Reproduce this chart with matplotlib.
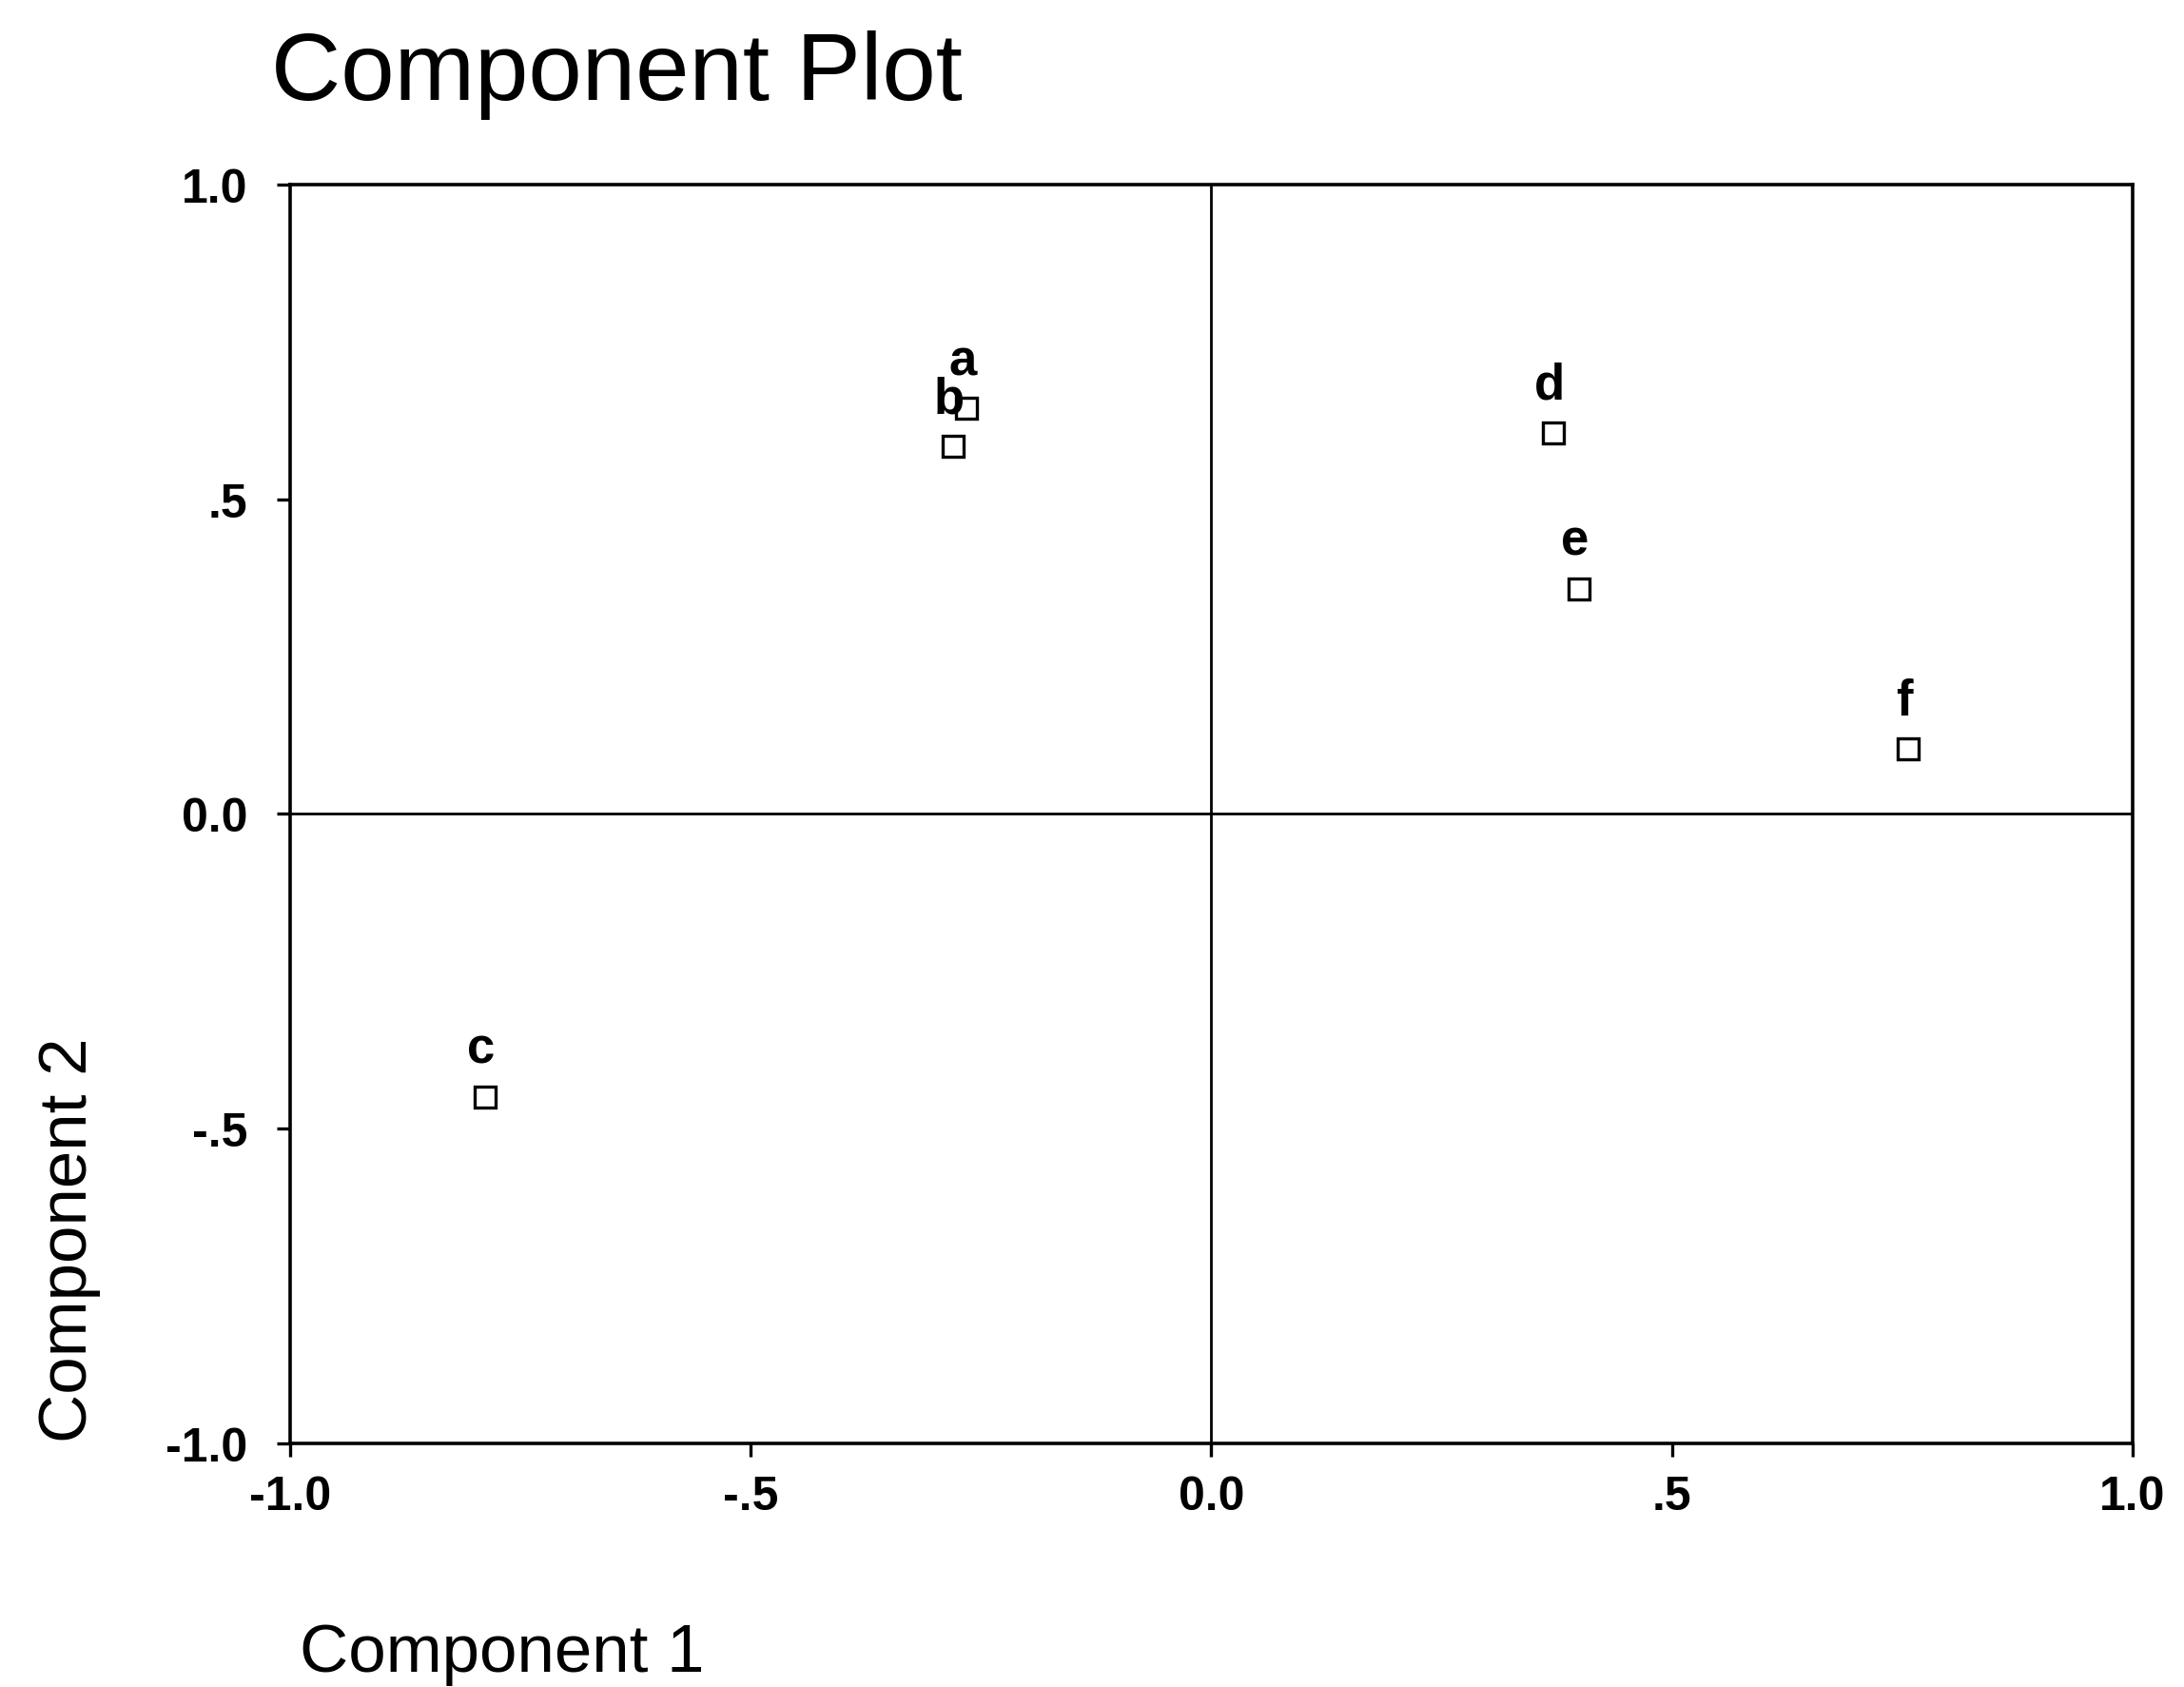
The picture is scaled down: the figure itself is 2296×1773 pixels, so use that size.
import matplotlib
matplotlib.use("Agg")
import matplotlib.pyplot as plt

plt.rcParams['font.family'] = ['Liberation Sans', 'DejaVu Sans']

# component loadings
labels = ['a', 'b', 'c', 'd', 'e', 'f']
comp1 = [-0.266, -0.280, -0.788, 0.371, 0.399, 0.756]
comp2 = [0.644, 0.584, -0.449, 0.606, 0.358, 0.103]

ticks = [-1.0, -0.5, 0.0, 0.5, 1.0]
tick_labels = ['-1.0', '-.5', '0.0', '.5', '1.0']

fig = plt.figure(figsize=(22.96, 17.74), dpi=100)
ax = fig.add_axes([0.1328, 0.1443, 0.8437, 0.7458])

ax.axhline(0, color='black', lw=2.0, zorder=1)
ax.axvline(0, color='black', lw=2.0, zorder=1)

ax.plot(comp1, comp2, 's', ms=16, mfc='white', mec='black', mew=2.4, zorder=3)
for lab, x, y in zip(labels, comp1, comp2):
    ax.annotate(lab, (x, y), xytext=(-3, 26), textcoords='offset points',
                ha='center', va='baseline', fontsize=38, fontweight='bold')

ax.set_xlim(-1, 1)
ax.set_ylim(-1, 1)
ax.set_xticks(ticks)
ax.set_xticklabels(tick_labels)
ax.set_yticks(ticks)
ax.set_yticklabels(tick_labels)
ax.tick_params(direction='out', length=10, width=2.4, pad=14, labelsize=36)
ax.tick_params(axis='y', pad=22)
for t in ax.get_xticklabels() + ax.get_yticklabels():
    t.set_fontweight('bold')
for s in ax.spines.values():
    s.set_linewidth(2.6)

fig.text(285 / 2296, 1 - 105 / 1774, 'Component Plot', fontsize=73,
         ha='left', va='baseline')
fig.text(315 / 2296, 1 - 1757 / 1774, 'Component 1', fontsize=51,
         ha='left', va='baseline')
fig.text(73 / 2296, 1 - 1303 / 1774, 'Component 2', fontsize=51,
         rotation=90, ha='center', va='center')

fig.savefig('out.png', dpi=100, facecolor='white')
